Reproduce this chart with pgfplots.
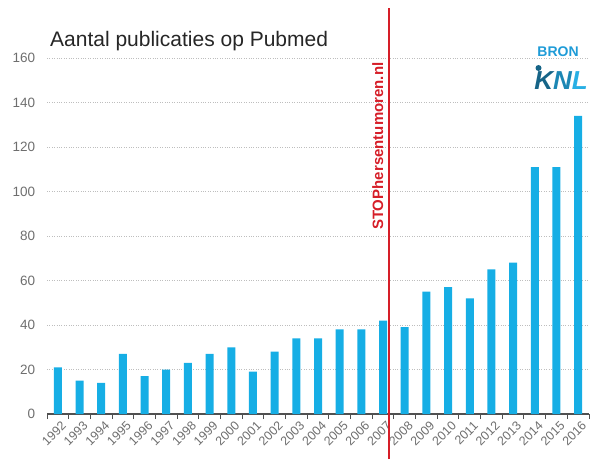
\documentclass[border=0pt]{standalone}
\usepackage{pgfplots}
\pgfplotsset{compat=1.18}
\usepackage{fontspec}
\setmainfont{Liberation Sans}
\definecolor{barblue}{RGB}{22,174,229}
\definecolor{stopred}{RGB}{214,30,40}
\definecolor{tickgray}{RGB}{110,110,110}
\definecolor{gridgray}{RGB}{190,190,190}
\definecolor{axisgray}{RGB}{80,80,80}
\definecolor{bronblue}{RGB}{30,155,215}
\definecolor{knlK}{RGB}{22,100,135}
\definecolor{knlN}{RGB}{28,135,180}
\definecolor{knlL}{RGB}{40,175,228}
\begin{document}
\begin{tikzpicture}
\useasboundingbox (0pt,0pt) rectangle (590pt,459pt);
\begin{axis}[
  at={(47pt,45pt)}, anchor=south west,
  scale only axis, width=542pt, height=356pt,
  xmin=-0.5, xmax=24.5, ymin=0, ymax=160,
  ybar, bar width=8pt,
  axis x line*=bottom, axis y line*=left,
  x axis line style={axisgray, line width=1.2pt, -},
  y axis line style={draw=none},
  xtick={0,...,24},
  xticklabels={1992,1993,1994,1995,1996,1997,1998,1999,2000,2001,2002,2003,2004,2005,2006,2007,2008,2009,2010,2011,2012,2013,2014,2015,2016},
  major x tick style={draw=none},
  minor xtick={-0.5,0.5,...,24.5},
  minor x tick style={axisgray, line width=1pt},
  minor tick length=5pt,
  tick align=outside,
  xticklabel style={rotate=45, anchor=north east, font=\fontsize{12.5}{14}\selectfont, text=tickgray, inner sep=0.5pt, yshift=-3pt, xshift=1pt},
  ytick={0,20,...,160},
  ytick style={draw=none},
  ymajorgrids, major grid style={gridgray, dotted, line width=0.6pt},
  yticklabel style={font=\fontsize{13.5}{15}\selectfont, text=tickgray},
  /pgf/number format/assume math mode=true,
  y tick label style={xshift=-4pt},
  clip=false,
]
\addplot[fill=barblue, draw=none] coordinates {
(0,21) (1,15) (2,14) (3,27) (4,17) (5,20) (6,23) (7,27) (8,30) (9,19)
(10,28) (11,34) (12,34) (13,38) (14,38) (15,42) (16,39) (17,55) (18,57)
(19,52) (20,65) (21,68) (22,111) (23,111) (24,134)};
\draw[stopred, line width=1.6pt] (axis cs:15.28,-20.3) -- (axis cs:15.28,182.5);
\node[rotate=90, anchor=south east, text=stopred, font=\bfseries\fontsize{15}{17}\selectfont, inner sep=0pt]
  at (axis cs:15.02,158.0) {STOPhersentumoren.nl};
\end{axis}
\node[anchor=base west, font=\fontsize{21}{23}\selectfont, text=black!85, inner sep=0pt] at (50pt,412pt) {Aantal publicaties op Pubmed};
\node[anchor=base, font=\bfseries\fontsize{14}{16}\selectfont, text=bronblue, inner sep=0pt] at (558pt,402pt) {BRON};
\node[anchor=base, font=\bfseries\itshape\fontsize{26}{28}\selectfont, inner sep=0pt] at (561pt,369pt) {\textcolor{knlK}{K}\textcolor{knlN}{N}\textcolor{knlL}{L}};
\fill[knlK] (538.5pt,391pt) circle (3pt);
\end{tikzpicture}
\end{document}
